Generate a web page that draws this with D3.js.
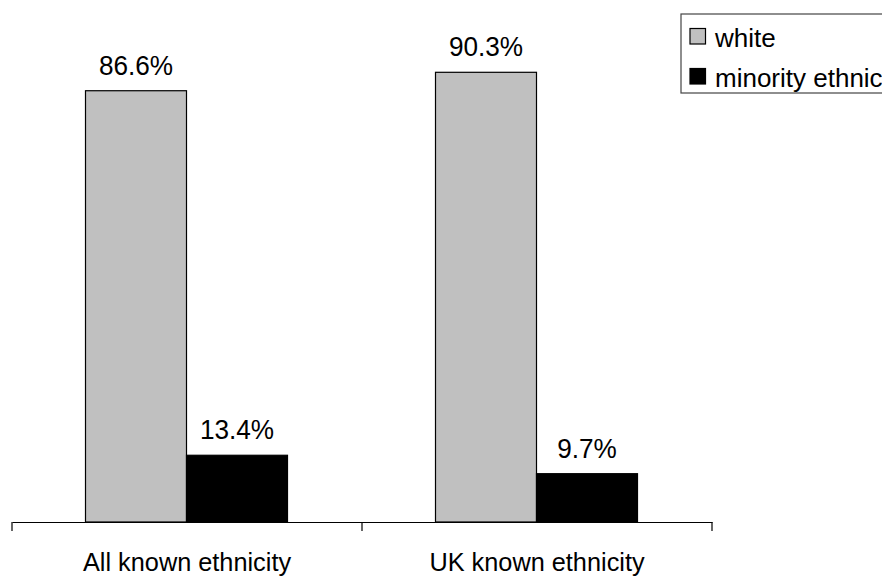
<!DOCTYPE html>
<html>
<head>
<meta charset="utf-8">
<script src="https://cdn.jsdelivr.net/npm/d3@7"></script>
<style>
  html, body { margin: 0; padding: 0; background: #fff; }
  svg { display: block; }
  text { font-family: Arial, "Liberation Sans", sans-serif; fill: #000; }
</style>
</head>
<body>
<svg id="chart" width="882" height="577"></svg>
<script>
const categories = ["All known ethnicity", "UK known ethnicity"];
const seriesNames = ["white", "minority ethnic"];
const whiteValues = [86.6, 90.3];
const minorityValues = [13.4, 9.7];
const seriesColors = ["#c0c0c0", "#000000"];

const W = 882, H = 577;
const svg = d3.select("#chart");

const x0 = d3.scaleBand().domain(categories).range([12, 712]).padding(0);
const x1 = d3.scaleBand().domain(seriesNames).range([73.5, 275.5]).padding(0);
const y = d3.scaleLinear().domain([0, 100.4]).range([522, 22]);

const seriesValues = [whiteValues, minorityValues];
const rows = [];
categories.forEach((c, ci) => {
  seriesNames.forEach((s, si) => {
    rows.push({ cat: c, series: s, value: seriesValues[si][ci], color: seriesColors[si] });
  });
});

// bars
svg.append("g").selectAll("rect").data(rows).join("rect")
  .attr("x", d => x0(d.cat) + x1(d.series))
  .attr("y", d => y(d.value))
  .attr("width", x1.bandwidth())
  .attr("height", d => y(0) - y(d.value))
  .attr("fill", d => d.color)
  .attr("stroke", "#000")
  .attr("stroke-width", 1.2);

// value labels
svg.append("g").selectAll("text").data(rows).join("text")
  .attr("transform", d => `translate(${x0(d.cat) + x1(d.series) + x1.bandwidth() / 2},${y(d.value) - 16}) scale(0.97,1)`)
  .attr("text-anchor", "middle")
  .style("font-size", "27px")
  .text(d => d.value.toFixed(1) + "%");

// x axis
const axis = d3.axisBottom(x0).tickSize(0).tickPadding(0);
const gx = svg.append("g").attr("transform", `translate(0,${y(0)})`).call(axis);
gx.select(".domain").attr("stroke", "#000").attr("stroke-width", 1.2);
gx.selectAll(".tick text").remove();
// category boundary ticks
const boundaries = categories.map(c => x0(c)).concat([x0.range()[1]]);
gx.selectAll("line.bound").data(boundaries).join("line")
  .attr("class", "bound")
  .attr("x1", d => d).attr("x2", d => d)
  .attr("y1", 0).attr("y2", 9)
  .attr("stroke", "#000").attr("stroke-width", 1.2);
// category labels
svg.append("g").selectAll("text").data(categories).join("text")
  .attr("transform", d => `translate(${x0(d) + x0.bandwidth() / 2},570.5) scale(0.955,1)`)
  .attr("text-anchor", "middle")
  .style("font-size", "26.5px")
  .text(d => d);

// legend
const lg = svg.append("g").attr("transform", "translate(681,14)");
lg.append("rect").attr("x", 0).attr("y", 0).attr("width", 260).attr("height", 79)
  .attr("fill", "#fff").attr("stroke", "#444").attr("stroke-width", 1.2);
const items = lg.selectAll("g.item").data(seriesNames).join("g")
  .attr("class", "item")
  .attr("transform", (d, i) => `translate(9,${14.5 + i * 40})`);
items.append("rect").attr("width", 15.5).attr("height", 15.5)
  .attr("fill", (d, i) => seriesColors[i]).attr("stroke", "#000").attr("stroke-width", 1.2);
items.append("text").attr("x", 25).attr("y", 18)
  .style("font-size", "26px").text(d => d);
</script>
</body>
</html>
